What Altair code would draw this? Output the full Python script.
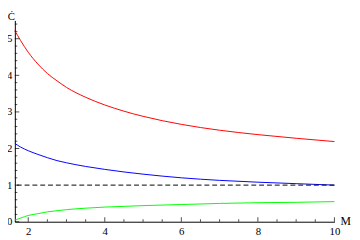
import altair as alt
import pandas as pd

# ---- data ----
M = [1.65, 1.8, 2.0, 2.25, 2.5, 2.75, 3.0, 3.5, 4.0, 4.5, 5.0, 6.0, 7.0, 8.0, 9.0, 10.0]
red = [5.22, 4.95, 4.63, 4.31, 4.05, 3.85, 3.67, 3.40, 3.19, 3.02, 2.88, 2.66, 2.50, 2.38, 2.28, 2.19]
blue = [2.14, 2.04, 1.94, 1.84, 1.75, 1.67, 1.61, 1.51, 1.43, 1.36, 1.30, 1.20, 1.13, 1.08, 1.04, 1.00]
green = [0.04, 0.10, 0.17, 0.22, 0.27, 0.30, 0.33, 0.37, 0.40, 0.42, 0.44, 0.47, 0.50, 0.52, 0.53, 0.55]
series_names = ["upper", "middle", "lower"]
series_colors = ["#ff0000", "#0000ff", "#00ff00"]
reference_level = [1.0]

x_major = [2, 4, 6, 8, 10]
x_minor = [2.5, 3, 3.5, 4.5, 5, 5.5, 6.5, 7, 7.5, 8.5, 9, 9.5]
y_major = [0, 1, 2, 3, 4, 5]
y_minor = [0.2, 0.4, 0.6, 0.8, 1.2, 1.4, 1.6, 1.8, 2.2, 2.4, 2.6, 2.8,
           3.2, 3.4, 3.6, 3.8, 4.2, 4.4, 4.6, 4.8, 5.2, 5.4]
x_domain = [1.65, 10]
y_domain = [0, 5.5]

W, H = 327, 206
FONT = "Liberation Serif"

rows = []
for name, vals in zip(series_names, [red, blue, green]):
    for m, v in zip(M, vals):
        rows.append({"M": m, "C": v, "series": name})
df = pd.DataFrame(rows)

xs = alt.Scale(domain=x_domain, nice=False, zero=False)
ys = alt.Scale(domain=y_domain, nice=False, zero=False)

x_axis = alt.Axis(
    values=x_major, format="d", ticks=False, tickSize=0, grid=False,
    labelPadding=4, labelFlush=False, labelOverlap=False,
    labelFont=FONT, labelFontSize=11, labelColor="black",
    domainColor="black", domainWidth=1,
    title="M", titleFont=FONT, titleFontSize=12, titleFontWeight="normal",
    titleColor="black", titleX=W + 11, titleY=-1,
    titleAlign="center", titleBaseline="middle", titleAngle=0)
y_axis = alt.Axis(
    values=y_major, format="d", ticks=False, tickSize=0, grid=False,
    labelPadding=3, labelFlush=False, labelOverlap=False,
    labelFont=FONT, labelFontSize=11, labelColor="black",
    domainColor="black", domainWidth=1,
    title="Ċ", titleFont=FONT, titleFontSize=11, titleFontWeight="normal",
    titleColor="black", titleX=-4, titleY=-0.5,
    titleAlign="center", titleBaseline="alphabetic", titleAngle=0)

lines = alt.Chart(df).mark_line(strokeWidth=1, interpolate="monotone").encode(
    x=alt.X("M:Q", scale=xs, axis=x_axis, title="M"),
    y=alt.Y("C:Q", scale=ys, axis=y_axis, title="Ċ"),
    color=alt.Color("series:N", scale=alt.Scale(domain=series_names, range=series_colors), legend=None),
)

dashed = alt.Chart(pd.DataFrame({"level": reference_level})).mark_rule(
    color="black", strokeWidth=1, strokeDash=[5, 3]
).encode(y=alt.Y("level:Q", scale=ys, axis=y_axis, title="Ċ"))


def xticks(vals, size):
    return alt.Chart(pd.DataFrame({"v": vals})).mark_tick(
        orient="vertical", color="black", thickness=1, size=size, yOffset=-size / 2
    ).encode(x=alt.X("v:Q", scale=xs, axis=x_axis, title="M"),
             y=alt.YDatum(0, scale=ys, axis=y_axis, title="Ċ"))


def yticks(vals, size):
    return alt.Chart(pd.DataFrame({"v": vals})).mark_tick(
        orient="horizontal", color="black", thickness=1, size=size, xOffset=size / 2
    ).encode(y=alt.Y("v:Q", scale=ys, axis=y_axis, title="Ċ"),
             x=alt.XDatum(x_domain[0], scale=xs, axis=x_axis, title="M"))


chart = alt.layer(
    lines, dashed,
    xticks(x_major, 4.5), xticks(x_minor, 2.5),
    yticks(y_major, 4.5), yticks(y_minor, 2.5),
).properties(
    width=W, height=H,
    autosize=alt.AutoSizeParams(type="none"),
    padding={"left": 7, "top": 10, "right": 18, "bottom": 16},
    background="white",
).configure_view(strokeWidth=0)

chart.save("out.html", embed_options={"renderer": "svg", "actions": False})
